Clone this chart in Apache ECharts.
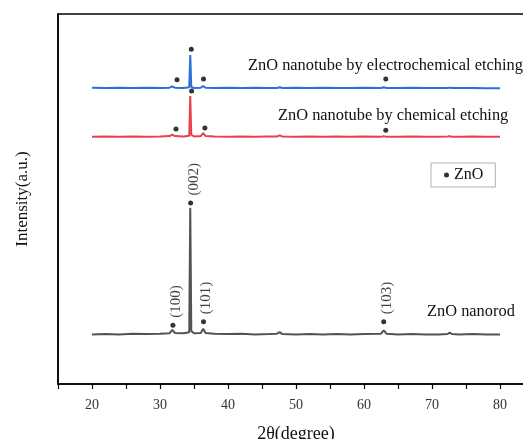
<!DOCTYPE html>
<html>
<head>
<meta charset="utf-8">
<script src="https://cdn.jsdelivr.net/npm/echarts@6/dist/echarts.min.js"></script>
<style>
  html, body { margin: 0; padding: 0; background: #fff; }
  #main { width: 523px; height: 439px; }
</style>
</head>
<body>
<div id="main"></div>
<script>
// 2theta sample positions shared by the three patterns
var twoTheta = [20, 22, 24, 26, 28, 30, 31.4, 31.8, 32.2, 33.5, 34.3, 34.45, 34.6, 35.0, 36.0, 36.35, 36.7,
    38, 40, 42, 44, 46, 47.2, 47.6, 48, 50, 52, 54, 56, 58, 60, 62.5, 62.9, 63.3, 65, 67, 69, 71, 72.3, 72.6,
    72.9, 74, 76, 78, 80];

var nanorod = [13.4, 13.5, 13.4, 13.6, 13.5, 13.6, 13.7, 14.6, 13.8, 13.7, 14.0, 47.6, 14.3, 13.7, 13.8, 14.9, 13.8,
    13.6, 13.5, 13.6, 13.4, 13.5, 13.6, 14.0, 13.5, 13.4, 13.5, 13.4, 13.5, 13.4, 13.5, 13.6, 14.5, 13.6, 13.4, 13.5,
    13.4, 13.4, 13.5, 13.9, 13.5, 13.4, 13.5, 13.4, 13.4];

var chemical = [66.8, 66.9, 66.8, 66.9, 66.8, 66.9, 67.0, 67.4, 67.0, 66.9, 67.1, 77.8, 67.3, 66.9, 67.0, 67.8, 67.0,
    66.9, 66.8, 66.9, 66.8, 66.9, 66.9, 67.2, 66.9, 66.8, 66.9, 66.8, 66.9, 66.8, 66.9, 66.8, 67.0, 66.8, 66.8, 66.9,
    66.8, 66.8, 66.9, 67.0, 66.8, 66.8, 66.9, 66.8, 66.8];

var electro = [80.1, 80.0, 80.1, 80.0, 80.1, 80.0, 80.1, 80.4, 80.1, 80.0, 80.2, 88.9, 80.3, 80.0, 80.1, 80.5, 80.1,
    80.0, 80.1, 80.0, 80.1, 80.0, 80.0, 80.2, 80.0, 80.1, 80.0, 80.1, 80.0, 80.0, 80.1, 80.0, 80.2, 80.0, 80.0, 80.1,
    80.0, 80.0, 80.0, 80.1, 80.0, 80.0, 80.0, 79.9, 79.9];

// ZnO reflection markers
var dotX = [31.9, 34.5, 36.4, 62.9, 32.35, 34.65, 36.6, 63.2, 32.5, 34.6, 36.4, 63.2];
var dotY = [15.9, 48.9, 16.8, 16.8, 68.9, 79.2, 69.2, 68.6, 82.2, 90.5, 82.4, 82.4];
var dotLabels = ['(100)', '(002)', '(101)', '(103)', '', '', '', '', '', '', '', ''];

var traceNames = ['ZnO nanorod', 'ZnO nanotube by chemical etching', 'ZnO nanotube by electrochemical etching'];
var traces = [nanorod, chemical, electro];
var colors = ['#535353', '#e8434a', '#2b6fd9'];

var serif = '"Liberation Serif", "DejaVu Serif", serif';

function pairs(ys) {
    return twoTheta.map(function (x, i) { return [x, ys[i]]; });
}

var series = traces.map(function (ys, i) {
    return {
        name: traceNames[i],
        type: 'line',
        data: pairs(ys),
        showSymbol: false,
        silent: true,
        lineStyle: { color: colors[i], width: 2 },
        z: 2
    };
});

series.push({
    name: 'ZnO',
    type: 'scatter',
    symbol: 'circle',
    symbolSize: 5,
    itemStyle: { color: '#000' },
    z: 3,
    data: dotX.map(function (x, i) {
        var item = { value: [x, dotY[i]] };
        if (dotLabels[i]) {
            item.label = {
                show: true,
                formatter: dotLabels[i],
                position: 'top',
                distance: 5,
                rotate: 90,
                align: 'left',
                verticalAlign: 'middle',
                offset: [0, 3],
                fontFamily: serif,
                fontSize: 15,
                color: '#111'
            };
        }
        return item;
    })
});

var chart = echarts.init(document.getElementById('main'));
chart.setOption({
    animation: false,
    backgroundColor: '#fff',
    grid: {
        left: 58, top: 14, width: 476, bottom: 55,
        outerBoundsMode: 'none',
        containLabel: false,
        show: true, borderColor: '#000', borderWidth: 1.5
    },
    legend: {
        data: ['ZnO'],
        left: 431, top: 163,
        icon: 'circle', itemWidth: 5, itemHeight: 5, itemGap: 6,
        padding: [4, 12, 4, 13],
        borderColor: '#b0b0b0', borderWidth: 1,
        textStyle: { fontFamily: serif, fontSize: 16, color: '#111' }
    },
    xAxis: {
        type: 'value',
        min: 15, max: 85, interval: 5,
        name: '2θ(degree)',
        nameLocation: 'middle',
        nameGap: 41,
        nameTextStyle: { fontFamily: serif, fontSize: 18, color: '#111' },
        axisLine: { lineStyle: { color: '#000', width: 1.5 } },
        axisTick: { length: 5, lineStyle: { color: '#000', width: 1.2 } },
        axisLabel: {
            margin: 14,
            fontFamily: serif, fontSize: 14, color: '#333',
            formatter: function (v) { return (v % 10 === 0 && v >= 20 && v <= 80) ? v : ''; }
        },
        splitLine: { show: false }
    },
    yAxis: {
        type: 'value',
        min: 0, max: 100,
        name: 'Intensity(a.u.)',
        nameLocation: 'middle',
        nameRotate: 90,
        nameGap: 27,
        nameTextStyle: { fontFamily: serif, fontSize: 17, color: '#111' },
        axisLine: { show: true, lineStyle: { color: '#000', width: 1.5 } },
        axisTick: { show: false },
        axisLabel: { show: false },
        splitLine: { show: false }
    },
    graphic: [
        { type: 'text', left: 248, top: 58, style: { text: traceNames[2], font: '16.4px ' + serif, fill: '#111' } },
        { type: 'text', left: 278, top: 108, style: { text: traceNames[1], font: '16.4px ' + serif, fill: '#111' } },
        { type: 'text', left: 427, top: 304, style: { text: traceNames[0], font: '16.4px ' + serif, fill: '#111' } }
    ],
    series: series
});
</script>
</body>
</html>
